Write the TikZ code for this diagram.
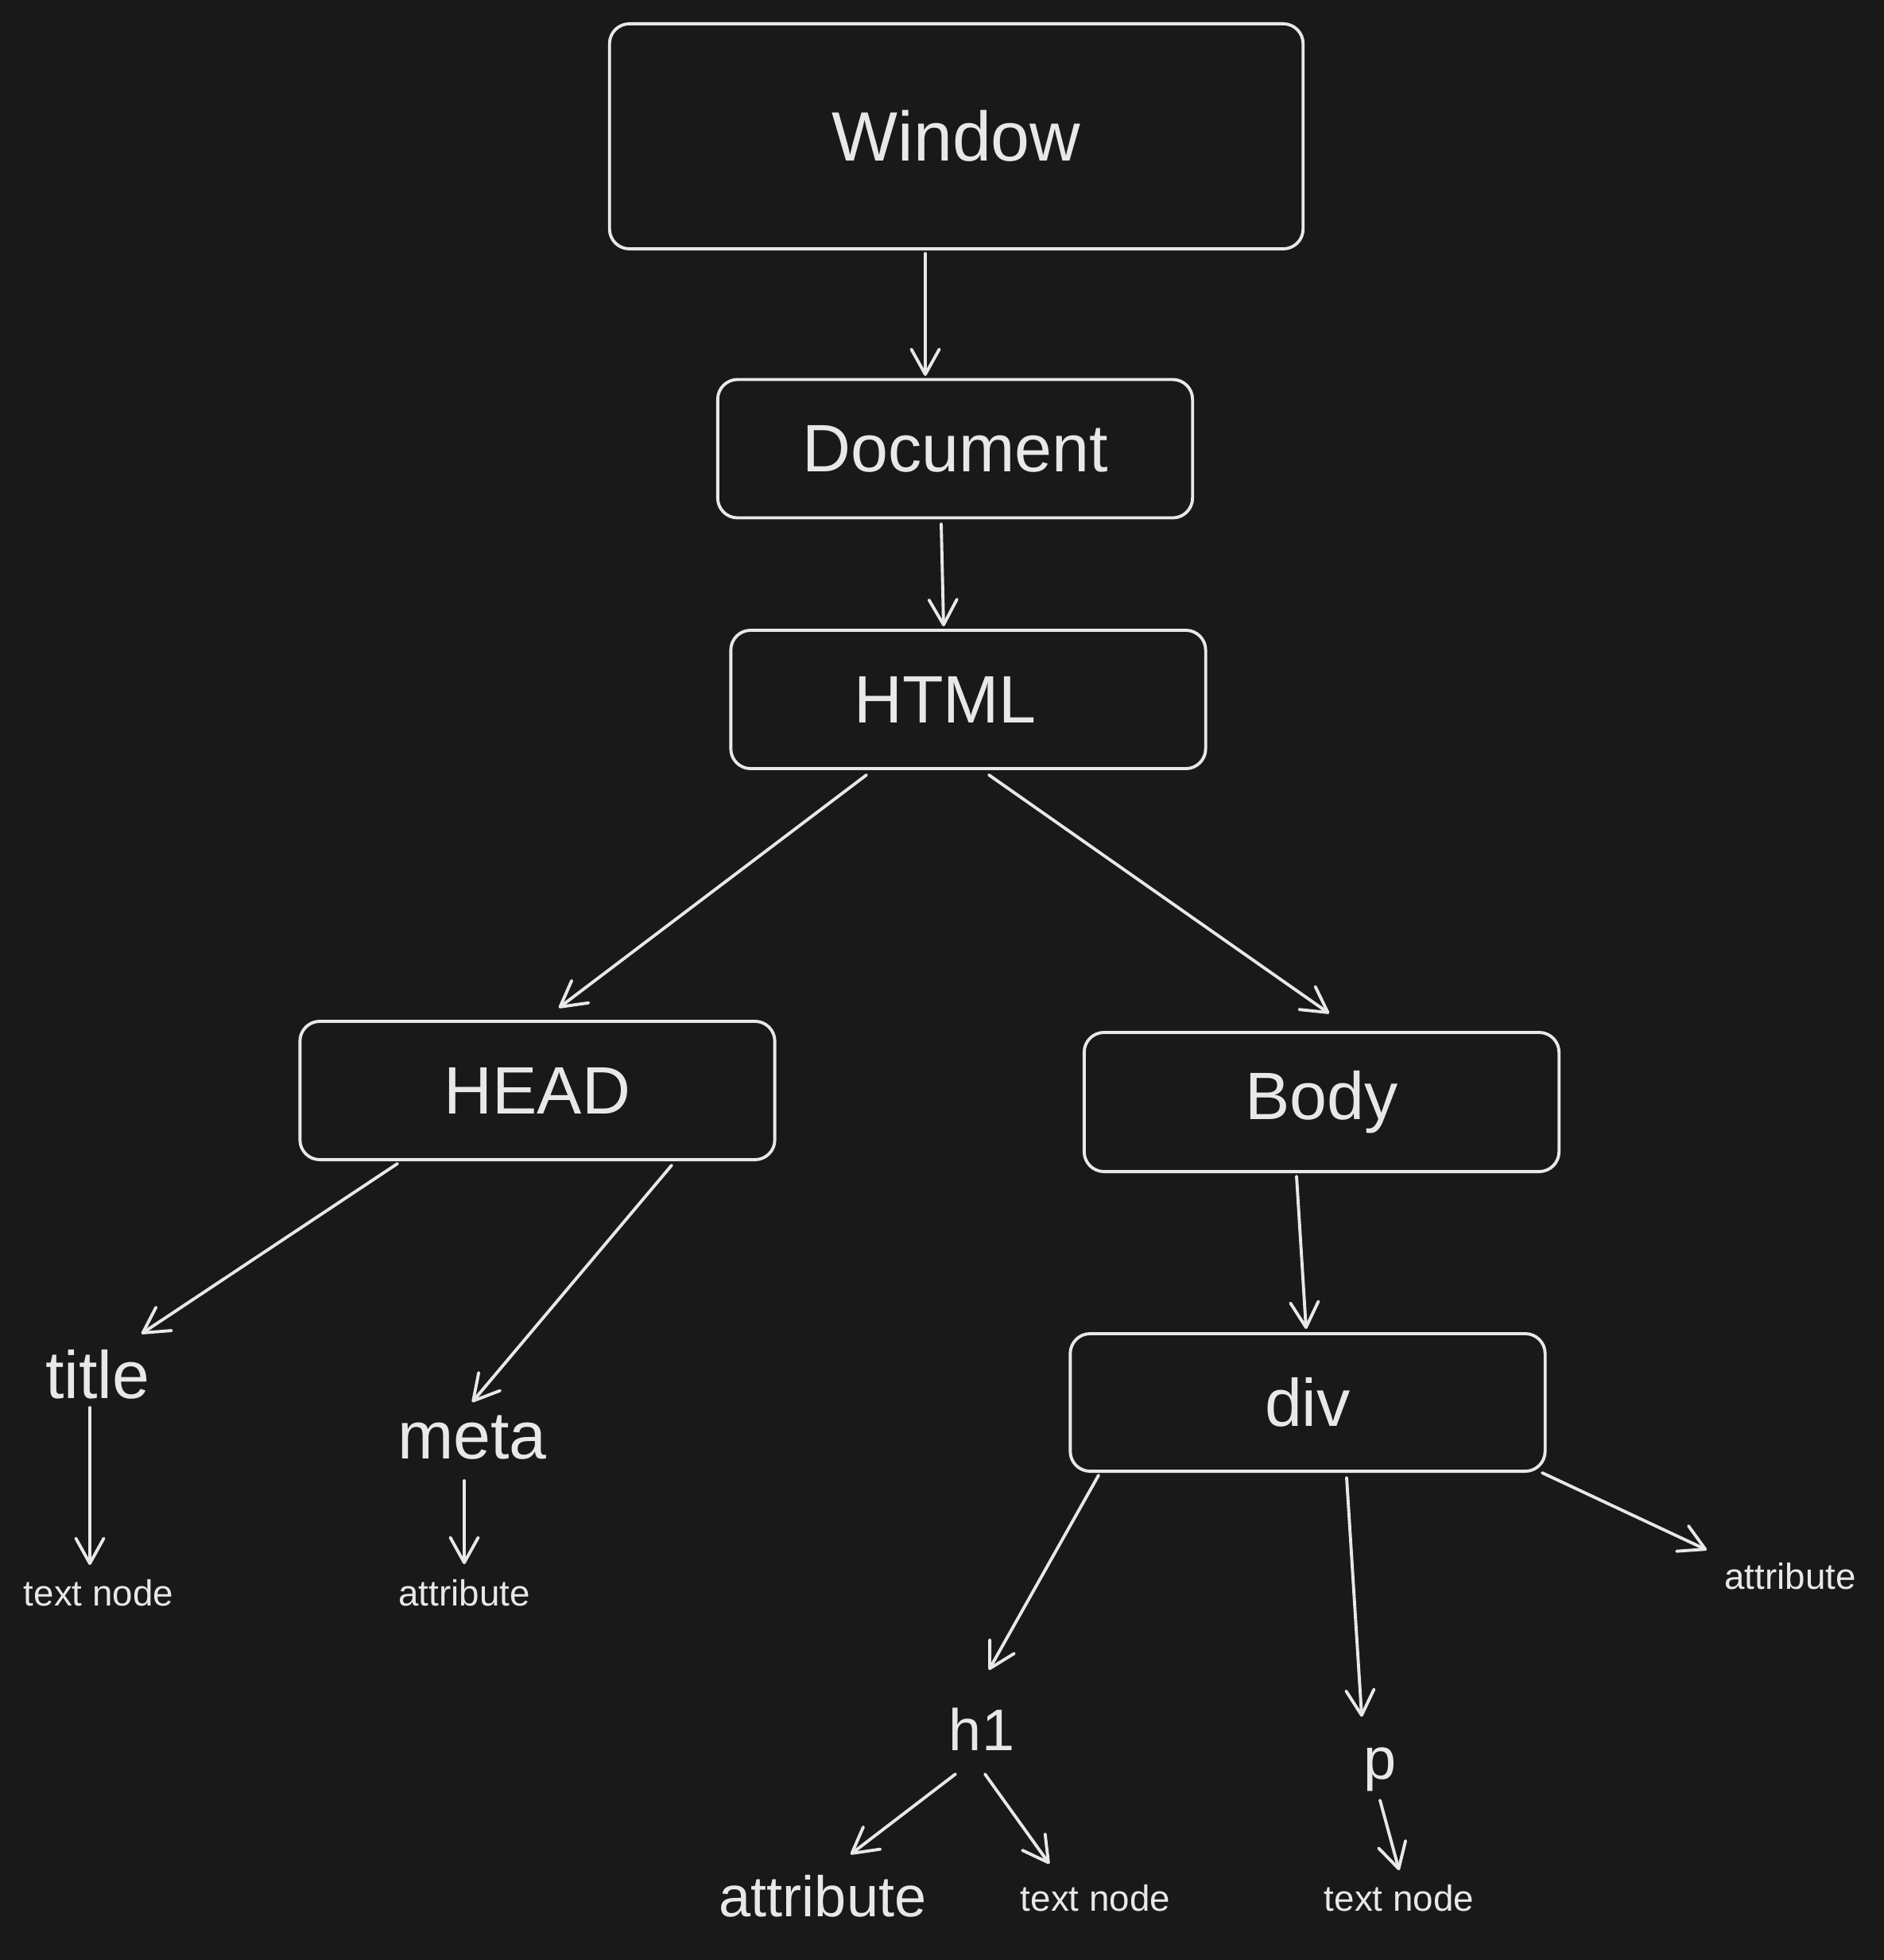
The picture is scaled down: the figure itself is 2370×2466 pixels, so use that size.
\documentclass[tikz,border=0pt]{standalone}
\usepackage{fontspec}
\setmainfont{Liberation Sans}
\usetikzlibrary{arrows.meta,calc}
\definecolor{ink}{HTML}{191919}
\definecolor{chalk}{HTML}{E8E8E8}

\begin{document}
\begin{tikzpicture}[x=0.01cm,y=-0.01cm,
  box/.style={draw=chalk,line width=1.1pt,rounded corners=0.25cm,minimum width=5.97cm,minimum height=1.74cm,text=chalk,font=\fontsize{24pt}{28pt}\selectfont},
  big/.style={text=chalk,inner sep=0pt,font=\fontsize{24pt}{28pt}\selectfont},
  mid/.style={text=chalk,inner sep=0pt,font=\fontsize{21pt}{25pt}\selectfont},
  small/.style={text=chalk,inner sep=0pt,font=\fontsize{13pt}{16pt}\selectfont},
  arr/.style={draw=chalk,line width=1.1pt,line cap=round,-{Straight Barb[length=9pt,width=10pt,round]}}]
\fill[ink] (0,0) rectangle (2370,2466);

\node[box,minimum width=8.72cm,minimum height=2.83cm,font=\fontsize{25pt}{30pt}\selectfont] (window) at (1203,171.5) {Window};
\node[box] (doc) at (1201.5,564.5) {Document};
\node[box,label={[big,xshift=-0.29cm,name=htmltext]center:HTML}] (html) at (1218,880) {};
\node[box] (head) at (676,1372) {HEAD};
\node[box,minimum height=1.75cm] (body) at (1662.5,1386.5) {Body};
\node[box,minimum height=1.73cm] (div) at (1645,1764.5) {div};

\node[big] (title) at (123,1729) {title};
\node[big] (meta) at (594,1809) {meta};
\node[small] (titletext) at (124,2004) {text node};
\node[small] (metaattr) at (584,2004) {attribute};
\node[small] (divattr) at (2252,1983) {attribute};
\node[mid] (hone) at (1235,2176) {h1};
\node[mid] (para) at (1736,2226) {p};
\node[big,font=\fontsize{20.5pt}{24pt}\selectfont] (honeattr) at (1035,2386) {attribute};
\node[small] (honetext) at (1378,2388) {text node};
\node[small] (paratext) at (1760,2388) {text node};

\draw[arr] ($(window)+(-39,147.5)$) -- ($(doc)+(-37.5,-91.5)$);
\draw[arr] ($(doc)+(-17.5,94.5)$) -- ($(html)+(-31,-92)$);
\draw[arr] ($(html)+(-128,95)$) -- ($(head)+(27,-104)$);
\draw[arr] ($(html)+(26,95)$) -- ($(body)+(9.5,-111.5)$);
\draw[arr] ($(head)+(-176,92)$) -- ($(title)+(55,-51)$);
\draw[arr] ($(head)+(169,94)$) -- ($(meta)+(0,-45)$);
\draw[arr] ($(title)+(-10,42)$) -- ($(titletext)+(-11,-35)$);
\draw[arr] ($(meta)+(-10,54)$) -- ($(metaattr)+(0,-36)$);
\draw[arr] ($(body)+(-31.5,93.5)$) -- ($(div)+(-2,-92.5)$);
\draw[arr] ($(div)+(-263,91.5)$) -- ($(hone)+(9,-75)$);
\draw[arr] ($(div)+(49,94.5)$) -- ($(para)+(-23,-66)$);
\draw[arr] ($(div)+(295,88.5)$) -- ($(divattr)+(-105,-33)$);
\draw[arr] ($(hone)+(-33,56)$) -- ($(honeattr)+(35,-53)$);
\draw[arr] ($(hone)+(4,56)$) -- ($(honetext)+(-58,-43)$);
\draw[arr] ($(para)+(0,39)$) -- ($(paratext)+(0,-35)$);
\end{tikzpicture}
\end{document}
